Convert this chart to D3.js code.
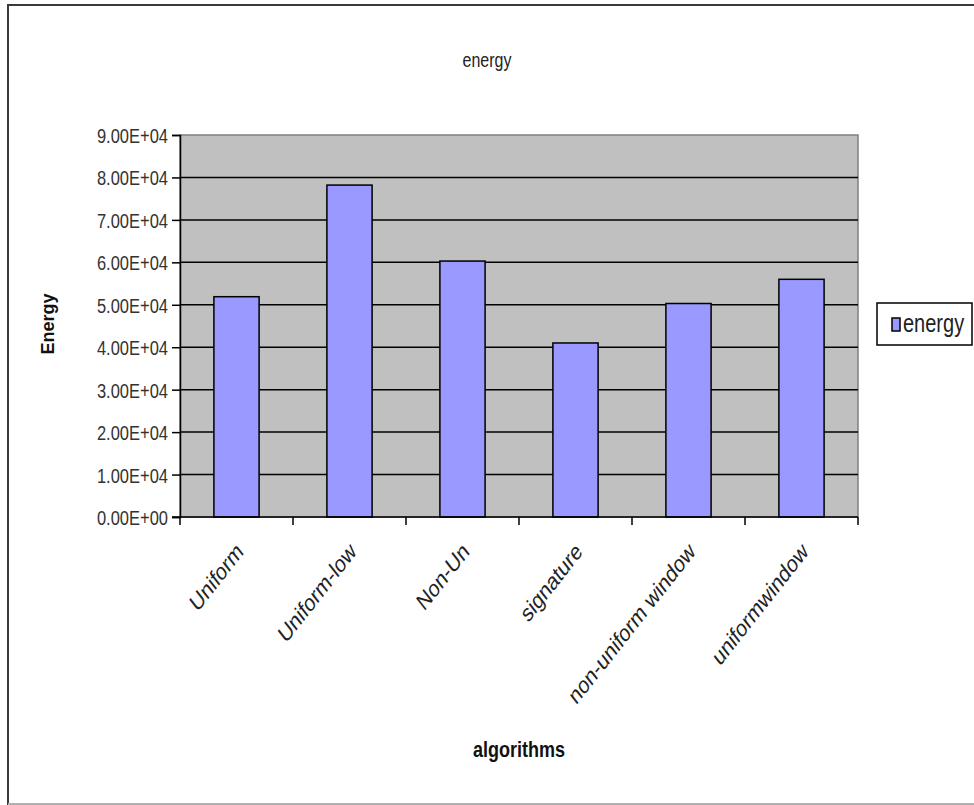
<!DOCTYPE html>
<html>
<head>
<meta charset="utf-8">
<script src="https://cdn.jsdelivr.net/npm/d3@7"></script>
<style>
  html, body { margin: 0; padding: 0; background: #fff; }
  svg { display: block; font-family: "Liberation Sans", Arial, sans-serif; }
</style>
</head>
<body>
<script>
// Energy per algorithm
const categories = ["Uniform", "Uniform-low", "Non-Un", "signature", "non-uniform window", "uniformwindow"];
const energy = [51900, 78200, 60300, 41000, 50300, 56000];
const yTicks = [0, 10000, 20000, 30000, 40000, 50000, 60000, 70000, 80000, 90000];
const yTickLabels = ["0.00E+00", "1.00E+04", "2.00E+04", "3.00E+04", "4.00E+04", "5.00E+04", "6.00E+04", "7.00E+04", "8.00E+04", "9.00E+04"];
const seriesName = "energy";

const W = 974, H = 805;
const plot = { left: 180, right: 858, top: 135, bottom: 517 };
const TALL = 1.27;   // vertical stretch applied to all lettering

const svg = d3.select("body").append("svg").attr("width", W).attr("height", H);
svg.append("rect").attr("width", W).attr("height", H).attr("fill", "#fff");

// outer chart frame
svg.append("line").attr("x1", 8).attr("x2", 8).attr("y1", 4).attr("y2", H).attr("stroke", "#3a3a3a").attr("stroke-width", 2);
svg.append("line").attr("x1", 7).attr("x2", W).attr("y1", 5).attr("y2", 5).attr("stroke", "#3a3a3a").attr("stroke-width", 2);
svg.append("line").attr("x1", 8).attr("x2", W).attr("y1", 804).attr("y2", 804).attr("stroke", "#b0b0b0").attr("stroke-width", 2);

const xBand = d3.scaleBand().domain(categories).range([plot.left, plot.right]);
const barW = xBand.bandwidth() / 2.5;
const y = d3.scaleLinear().domain([0, 90000]).range([plot.bottom, plot.top]);

// plot background
svg.append("rect")
  .attr("x", plot.left).attr("y", plot.top)
  .attr("width", plot.right - plot.left).attr("height", plot.bottom - plot.top)
  .attr("fill", "#c0c0c0").attr("stroke", "#808080").attr("stroke-width", 1.5);

// gridlines
svg.append("g").selectAll("line")
  .data(yTicks.filter(d => d > 0 && d < 90000))
  .join("line")
  .attr("x1", plot.left).attr("x2", plot.right)
  .attr("y1", d => y(d)).attr("y2", d => y(d))
  .attr("stroke", "#000").attr("stroke-width", 1.5);

// bars
svg.append("g").selectAll("rect")
  .data(categories)
  .join("rect")
  .attr("x", d => xBand(d) + (xBand.bandwidth() - barW) / 2)
  .attr("width", barW)
  .attr("y", (d, i) => y(energy[i]))
  .attr("height", (d, i) => y(0) - y(energy[i]))
  .attr("fill", "#9999ff").attr("stroke", "#000").attr("stroke-width", 1.5);

// y axis
const yAxis = d3.axisLeft(y).tickValues(yTicks).tickFormat((d, i) => yTickLabels[i]).tickSize(8).tickPadding(4);
const gy = svg.append("g").attr("transform", `translate(${plot.left},0)`).call(yAxis);
gy.select(".domain").attr("stroke", "#000").attr("stroke-width", 1.5);
gy.selectAll(".tick line").attr("stroke", "#000").attr("stroke-width", 1.5);
gy.selectAll(".tick text")
  .attr("font-size", 16.5).attr("fill", "#333").attr("font-family", "Liberation Sans, Arial, sans-serif")
  .attr("dy", null).attr("y", null)
  .attr("transform", `translate(0,${0.36 * 16.5 * TALL}) scale(1,${TALL})`);

// x axis with ticks at category boundaries
const gx = svg.append("g").attr("transform", `translate(0,${plot.bottom})`);
gx.append("line").attr("x1", plot.left - 8).attr("x2", plot.right).attr("y1", 0).attr("y2", 0).attr("stroke", "#000").attr("stroke-width", 1.5);
const bounds = categories.map(c => xBand(c)).concat([plot.right]);
gx.selectAll("line.tk").data(bounds).join("line").attr("class", "tk")
  .attr("x1", d => d).attr("x2", d => d).attr("y1", 0).attr("y2", 8)
  .attr("stroke", "#000").attr("stroke-width", 1.5);
gx.selectAll("text").data(categories).join("text")
  .attr("transform", d => `translate(${xBand(d) + xBand.bandwidth() / 2 + 8},${36}) scale(1,${TALL}) rotate(-45)`)
  .attr("text-anchor", "end")
  .attr("font-size", 19).attr("fill", "#222")
  .text(d => d);

// titles
function label(x0, y0, str, size, opts = {}) {
  return svg.append("text")
    .attr("transform", `translate(${x0},${y0}) ${opts.rotate ? "rotate(-90)" : "scale(1," + TALL + ")"}`)
    .attr("text-anchor", opts.anchor || "middle")
    .attr("font-size", size)
    .attr("font-weight", opts.bold ? "bold" : "normal")
    .attr("fill", opts.fill || "#222")
    .text(str);
}
label(487, 67, "energy", 16);
label(54, 324, "Energy", 18, { bold: true, rotate: true, fill: "#111" });
label(519, 757, "algorithms", 18, { bold: true, fill: "#111" });

// legend
const lg = svg.append("g").attr("transform", "translate(877,303)");
lg.append("rect").attr("width", 95).attr("height", 42).attr("fill", "#fff").attr("stroke", "#000").attr("stroke-width", 1.5);
lg.append("rect").attr("x", 15).attr("y", 15).attr("width", 8).attr("height", 13).attr("fill", "#9999ff").attr("stroke", "#000").attr("stroke-width", 1.5);
lg.append("text").attr("transform", `translate(26,29) scale(1,${TALL})`)
  .attr("font-size", 20).attr("fill", "#222").text(seriesName);
</script>
</body>
</html>
